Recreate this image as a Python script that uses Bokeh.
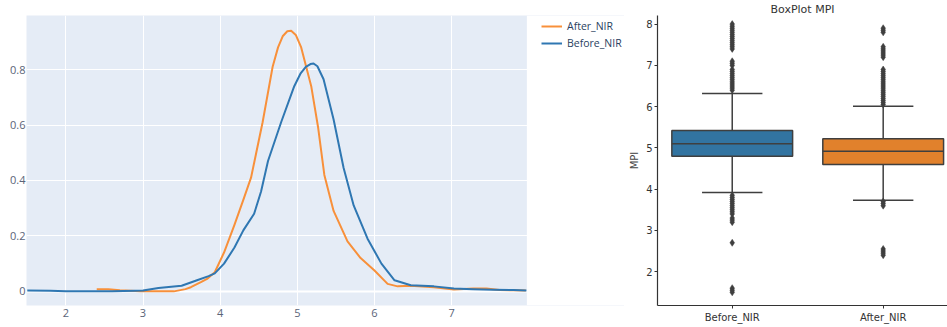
from bokeh.plotting import figure
from bokeh.layouts import row
from bokeh.models import (Legend, LegendItem, FixedTicker, CustomJSTickFormatter,
                          ColumnDataSource, Range1d, BoxAnnotation)
from bokeh.embed import file_html
from bokeh.resources import INLINE

# ---------------- data ----------------
before_x = [1.5, 1.8, 2.0, 2.3, 2.6, 2.9, 3.0, 3.2, 3.5, 3.7, 3.85, 3.93, 4.05, 4.185,
            4.3, 4.44, 4.53, 4.62, 4.79, 4.96, 5.04, 5.11, 5.17, 5.21, 5.26, 5.34, 5.47,
            5.60, 5.73, 5.91, 6.09, 6.26, 6.47, 6.77, 7.03, 7.28, 7.54, 7.8, 7.97]
before_y = [0.003, 0.002, 0.0, 0.0, 0.0, 0.002, 0.003, 0.012, 0.02, 0.04, 0.055, 0.065,
            0.10, 0.158, 0.22, 0.28, 0.36, 0.47, 0.61, 0.74, 0.785, 0.81, 0.82, 0.822,
            0.812, 0.765, 0.62, 0.445, 0.31, 0.19, 0.10, 0.04, 0.022, 0.018, 0.01, 0.008,
            0.006, 0.005, 0.003]

after_x = [2.4, 2.55, 2.7, 2.97, 3.2, 3.4, 3.55, 3.62, 3.75, 3.83, 3.93, 4.05, 4.185,
           4.30, 4.40, 4.55, 4.68, 4.75, 4.81, 4.87, 4.92, 4.98, 5.05, 5.18, 5.27, 5.35,
           5.47, 5.65, 5.82, 6.0, 6.17, 6.30, 6.47, 6.77, 7.03, 7.28, 7.45, 7.62, 7.8, 7.96]
after_y = [0.008, 0.008, 0.004, 0.0, 0.0, 0.0, 0.008, 0.015, 0.033, 0.045, 0.069, 0.14,
           0.24, 0.33, 0.41, 0.61, 0.81, 0.88, 0.92, 0.938, 0.94, 0.925, 0.88, 0.74, 0.59,
           0.42, 0.29, 0.18, 0.12, 0.075, 0.027, 0.018, 0.02, 0.015, 0.007, 0.01, 0.01,
           0.005, 0.004, 0.003]

kde_x_ticks = [2, 3, 4, 5, 6, 7]
kde_y_ticks = [0, 0.2, 0.4, 0.6, 0.8]

categories = ["Before_NIR", "After_NIR"]
q1 = [4.8, 4.6]
median = [5.1, 4.92]
q3 = [5.42, 5.22]
whisker_low = [3.92, 3.73]
whisker_high = [6.32, 6.01]
outliers_before = [6.4, 6.45, 6.5, 6.55, 6.6, 6.65, 6.7, 6.75, 6.8, 6.85, 6.9, 7.0, 7.05,
                   7.1, 7.4, 7.45, 7.5, 7.55, 7.6, 7.65, 7.7, 7.75, 7.8, 7.85, 7.9, 7.95,
                   8.0, 3.85, 3.8, 3.75, 3.7, 3.65, 3.6, 3.55, 3.5, 3.45, 3.4, 3.3, 3.25,
                   3.2, 2.7, 1.6, 1.55, 1.5]
outliers_after = [6.05, 6.1, 6.15, 6.2, 6.25, 6.3, 6.35, 6.4, 6.45, 6.5, 6.55, 6.6, 6.65,
                  6.7, 6.75, 6.8, 6.85, 6.9, 7.2, 7.25, 7.3, 7.35, 7.4, 7.45, 7.8, 7.85,
                  7.9, 3.7, 3.65, 3.6, 2.55, 2.5, 2.45, 2.4]
box_y_ticks = [2, 3, 4, 5, 6, 7, 8]

# ---------------- KDE figure ----------------
BLUE = "#2f77b2"
ORANGE = "#f8903a"
X_LO, X_HI = 1.49, 7.975   # visible data extent of the plot area
W1 = 624

p1 = figure(width=W1, height=327, output_backend="svg", toolbar_location=None,
            x_range=Range1d(X_LO, X_LO + (W1 - 26) / 77.16), y_range=Range1d(-0.051, 0.995),
            min_border_left=26, min_border_top=13, min_border_right=0, min_border_bottom=22)
p1.background_fill_color = "#e5ecf6"
p1.border_fill_color = "white"
p1.outline_line_color = None
p1.grid.grid_line_color = "white"
p1.grid.grid_line_width = 1
p1.hspan(y=[0], line_color="white", line_width=2)

r_after = p1.line(after_x, after_y, line_color=ORANGE, line_width=2, line_join="round")
r_before = p1.line(before_x, before_y, line_color=BLUE, line_width=2, line_join="round")

# white area to the right of the plotting area, where the legend sits
p1.add_layout(BoxAnnotation(left=X_HI, fill_color="white", fill_alpha=1.0,
                            line_color=None))

for ax in (p1.xaxis[0], p1.yaxis[0]):
    ax.axis_line_color = None
    ax.major_tick_line_color = None
    ax.minor_tick_line_color = None
    ax.major_tick_out = 0
    ax.major_tick_in = 0
    ax.major_label_text_font = "Open Sans"
    ax.major_label_text_font_size = "11px"
    ax.major_label_text_color = "#5a6478"
    ax.major_label_standoff = 3
p1.yaxis.major_label_standoff = 1
p1.xaxis.ticker = FixedTicker(ticks=kde_x_ticks)
p1.yaxis.ticker = FixedTicker(ticks=kde_y_ticks)
p1.xaxis.formatter = CustomJSTickFormatter(code="return tick.toString()")
p1.yaxis.formatter = CustomJSTickFormatter(code="return tick.toString()")

legend = Legend(items=[LegendItem(label="After_NIR", renderers=[r_after]),
                       LegendItem(label="Before_NIR", renderers=[r_before])],
                location=(515, 255))
legend.border_line_color = None
legend.background_fill_alpha = 0
legend.label_text_font = "Open Sans"
legend.label_text_font_size = "10.5px"
legend.label_text_color = "#2a3f5f"
legend.glyph_width = 21
legend.glyph_height = 12
legend.label_height = 15
legend.spacing = 2
legend.padding = 0
legend.margin = 0
legend.label_standoff = 5
p1.add_layout(legend)

# ---------------- Box figure ----------------
BOX_COLORS = ["#3274a1", "#e1812c"]
EDGE = "#3f3f3f"
pos = list(range(len(categories)))

p2 = figure(width=947 - W1, height=327, output_backend="svg", toolbar_location=None,
            x_range=Range1d(-0.495, 1.426), y_range=Range1d(1.18, 8.209),
            min_border_left=657 - W1, min_border_top=14, min_border_right=0,
            min_border_bottom=20, title="BoxPlot MPI")
p2.title.align = "center"
p2.title.text_font = "DejaVu Sans"
p2.title.text_font_size = "11px"
p2.title.text_font_style = "normal"
p2.title.text_color = "#333333"
p2.title.standoff = 0
p2.title.offset = 108
p2.outline_line_color = None
p2.grid.grid_line_color = None

src = ColumnDataSource(dict(x=pos, q1=q1, q3=q3, med=median, lo=whisker_low,
                            hi=whisker_high, color=BOX_COLORS))
cap = 0.2
p2.segment(x0="x", y0="q3", x1="x", y1="hi", source=src, line_color=EDGE, line_width=1.5)
p2.segment(x0="x", y0="lo", x1="x", y1="q1", source=src, line_color=EDGE, line_width=1.5)
p2.vbar(x="x", width=0.8, bottom="q1", top="q3", source=src, fill_color="color",
        line_color=EDGE, line_width=1.5)
src_caps = ColumnDataSource(dict(x0=[x - cap for x in pos], x1=[x + cap for x in pos],
                                 lo=whisker_low, hi=whisker_high,
                                 m0=[x - 0.4 for x in pos], m1=[x + 0.4 for x in pos],
                                 med=median))
p2.segment(x0="x0", y0="hi", x1="x1", y1="hi", source=src_caps, line_color=EDGE, line_width=1.5)
p2.segment(x0="x0", y0="lo", x1="x1", y1="lo", source=src_caps, line_color=EDGE, line_width=1.5)
p2.segment(x0="m0", y0="med", x1="m1", y1="med", source=src_caps, line_color=EDGE, line_width=1.5)

for i, outs in enumerate([outliers_before, outliers_after]):
    p2.scatter([pos[i]] * len(outs), outs, marker="diamond", size=7,
               fill_color=EDGE, line_color=EDGE, line_width=0.5)

p2.xaxis.ticker = FixedTicker(ticks=pos)
p2.xaxis.formatter = CustomJSTickFormatter(args=dict(cats=categories),
                                           code="return cats[Math.round(tick)] || ''")
p2.yaxis.ticker = FixedTicker(ticks=box_y_ticks)
p2.yaxis.axis_label = "MPI"
p2.yaxis.axis_label_text_font = "DejaVu Sans"
p2.yaxis.axis_label_text_font_size = "10px"
p2.yaxis.axis_label_text_font_style = "normal"
p2.yaxis.axis_label_standoff = 3
for ax in (p2.xaxis[0], p2.yaxis[0]):
    ax.axis_line_color = "#333333"
    ax.axis_line_width = 1.2
    ax.major_tick_line_color = "#333333"
    ax.major_tick_out = 3
    ax.major_tick_in = 0
    ax.minor_tick_line_color = None
    ax.major_label_text_font = "DejaVu Sans"
    ax.major_label_text_font_size = "10px"
    ax.major_label_text_color = "#333333"
    ax.major_label_standoff = 3
p2.yaxis.major_label_standoff = 2

layout = row(p1, p2)
open("out.html", "w").write(file_html(layout, INLINE))
